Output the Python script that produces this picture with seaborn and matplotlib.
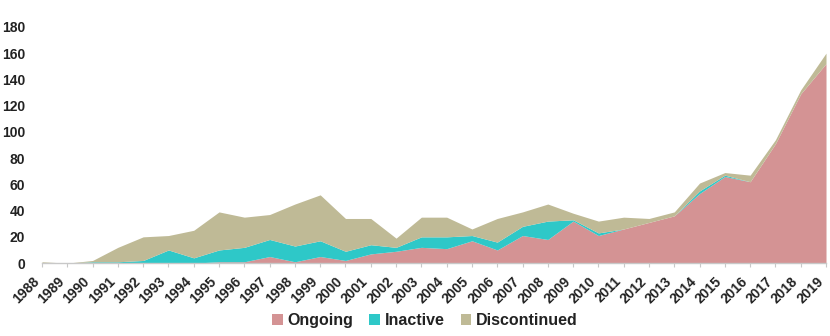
import matplotlib
matplotlib.use("Agg")
import matplotlib.pyplot as plt
import seaborn as sns
import numpy as np

years = list(range(1988, 2020))
ongoing = [0, 0, 0, 0, 0, 0, 0, 1, 1, 5, 1, 5, 2, 7, 9, 12, 11, 17, 10, 21, 18, 32,
           21, 26, 31, 36, 53, 66, 62, 91, 129, 152]
inactive = [0, 0, 1, 1, 2, 10, 4, 9, 11, 13, 12, 12, 7, 7, 3, 8, 9, 4, 6, 7, 14, 1,
            2, 0, 0, 0, 2, 1, 0, 0, 0, 0]
discontinued = [1, 0, 1, 11, 18, 11, 21, 29, 23, 19, 32, 35, 25, 20, 7, 15, 15, 5, 18, 11, 13, 5,
                9, 9, 3, 3, 6, 2, 5, 3, 3, 8]
series_names = ["Ongoing", "Inactive", "Discontinued"]
colors = ["#d49394", "#2ec8c8", "#bfba96"]
y_ticks = list(range(0, 181, 20))

sns.set_theme(style="white")
plt.rcParams["font.family"] = ["Liberation Sans", "DejaVu Sans"]

fig = plt.figure(figsize=(8.3, 3.36), dpi=100)
ax = fig.add_axes([0.0506, 0.217, 0.9446, 0.703])

ax.stackplot(years, ongoing, inactive, discontinued, labels=series_names,
             colors=colors, linewidth=0)

ax.set_xlim(years[0], years[-1])
ax.set_ylim(0, 180)
ax.set_yticks(y_ticks)
ax.set_xticks(years)
ax.set_xticklabels([str(y) for y in years], rotation=45, ha="right",
                   fontsize=10, fontweight="bold", color="#222222")
ax.set_yticklabels([str(v) for v in y_ticks], fontsize=10, fontweight="bold", color="#222222")

for s in ["top", "right", "left"]:
    ax.spines[s].set_visible(False)
ax.spines["bottom"].set_color("#c8c8c8")
ax.spines["bottom"].set_linewidth(1)
ax.tick_params(axis="x", which="major", bottom=True, length=3, width=0.8,
               color="#c8c8c8", pad=5)
ax.tick_params(axis="y", left=False, pad=6)
ax.grid(False)

fig.legend(loc="center", bbox_to_anchor=(0.512, 0.046), ncol=3, frameon=False,
           prop={"size": 11.5, "weight": "bold"}, handlelength=0.65, handleheight=0.65,
           handletextpad=0.3, columnspacing=1.0, labelcolor="#222222")

fig.savefig("out.png", dpi=100)
